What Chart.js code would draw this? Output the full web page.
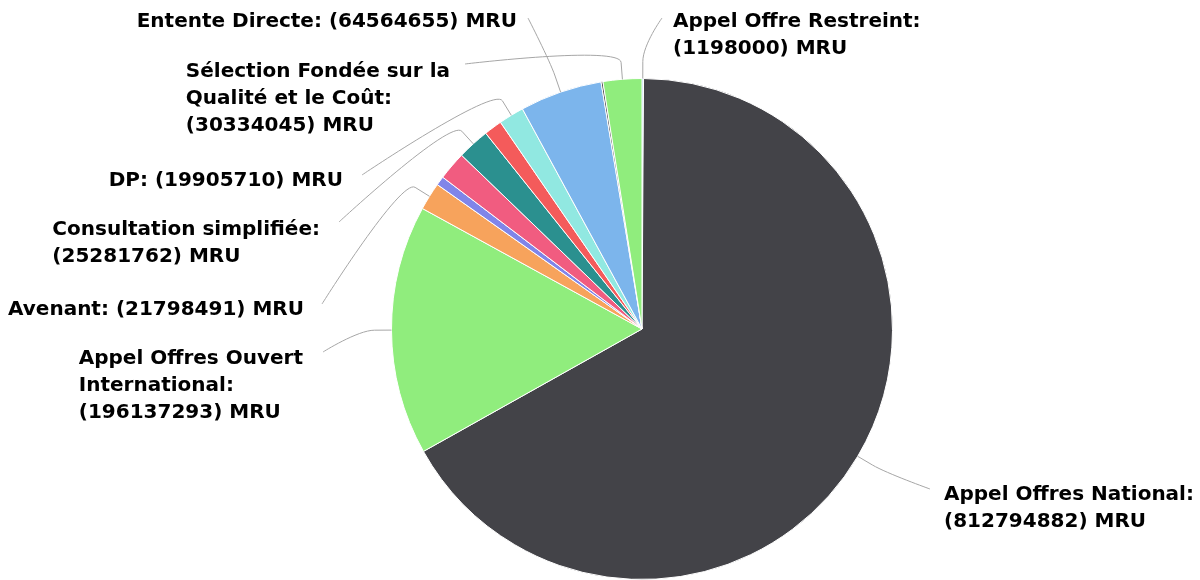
<!DOCTYPE html>
<html>
<head>
<meta charset="utf-8">
<script src="https://cdn.jsdelivr.net/npm/chart.js@4"></script>
<style>
  html, body { margin: 0; padding: 0; background: #fff; }
  #wrap { width: 1200px; height: 580px; }
</style>
</head>
<body>
<div id="wrap"><canvas id="pie" width="1200" height="580"></canvas></div>
<script>
// slices, clockwise from 12 o'clock
var categories = [
  'Appel Offre Restreint',
  'Appel Offres National',
  'Appel Offres Ouvert International',
  'Avenant',
  'Autre (1)',
  'Autre (2)',
  'Consultation simplifiée',
  'Autre (3)',
  'DP',
  'Entente Directe',
  'Autre (4)',
  'Sélection Fondée sur la Qualité et le Coût'
];
var amounts = [
  1198000, 812794882, 196137293, 21798491, 7100000, 22400000,
  25281762, 14200000, 19905710, 64564655, 1500000, 30334045
];
var sliceColors = [
  '#7cb5ec', '#434348', '#90ed7d', '#f7a35c', '#8085e9', '#f15c80',
  '#2b908f', '#f45b5b', '#91e8e1', '#7cb5ec', '#434348', '#90ed7d'
];
// which slices get a label (others are hidden like in the original)
var labelled = [true, true, true, true, false, false, true, false, true, true, false, true];

// label placement: text anchor (right edge on the left side, left edge on the right side),
// first line y, wrap width and where the connector starts
var LABEL_LAYOUT = {
  0:  { side: 'right', x: 673, y: 22,  wrap: 280, cx: 662, cy: 18 },
  1:  { side: 'right', x: 944, y: 495, wrap: 280, cx: 930, cy: 489 },
  2:  { side: 'left',  x: 303, y: 359, wrap: 250, cx: 323, cy: 352 },
  3:  { side: 'left',  x: 304, y: 310, wrap: 9999, cx: 322, cy: 304 },
  6:  { side: 'left',  x: 320, y: 230, wrap: 300, cx: 339, cy: 222 },
  8:  { side: 'left',  x: 343, y: 181, wrap: 9999, cx: 362, cy: 175 },
  9:  { side: 'left',  x: 517, y: 22,  wrap: 9999, cx: 528, cy: 18 },
  11: { side: 'left',  x: 450, y: 72,  wrap: 300, cx: 465, cy: 64 }
};

var FONT = 'bold 20px "DejaVu Sans", sans-serif';
var LINE_H = 27;

function wrapText(ctx, text, maxW) {
  var words = text.split(' ');
  var lines = [];
  var cur = '';
  words.forEach(function (w) {
    var test = cur ? cur + ' ' + w : w;
    if (cur && ctx.measureText(test).width > maxW) {
      lines.push(cur);
      cur = w;
    } else {
      cur = test;
    }
  });
  if (cur) lines.push(cur);
  return lines;
}

var pieLabels = {
  id: 'pieLabels',
  afterDatasetsDraw: function (chart) {
    var ctx = chart.ctx;
    var arcs = chart.getDatasetMeta(0).data;
    ctx.save();
    ctx.font = FONT;
    ctx.textBaseline = 'middle';
    arcs.forEach(function (arc, i) {
      if (!labelled[i]) return;
      var lay = LABEL_LAYOUT[i];
      var p = arc.getProps(['x', 'y', 'startAngle', 'endAngle', 'outerRadius'], true);
      var mid = (p.startAngle + p.endAngle) / 2;
      var touch = { x: p.x + Math.cos(mid) * p.outerRadius, y: p.y + Math.sin(mid) * p.outerRadius };
      var brk = { x: p.x + Math.cos(mid) * (p.outerRadius + 17), y: p.y + Math.sin(mid) * (p.outerRadius + 17) };

      // soft connector
      ctx.strokeStyle = '#a6a6a6';
      ctx.lineWidth = 1;
      ctx.beginPath();
      ctx.moveTo(lay.cx, lay.cy);
      ctx.bezierCurveTo(lay.cx, lay.cy, 2 * brk.x - touch.x, 2 * brk.y - touch.y, brk.x, brk.y);
      ctx.lineTo(touch.x, touch.y);
      ctx.stroke();

      var text = categories[i] + ': (' + amounts[i] + ') MRU';
      var lines = wrapText(ctx, text, lay.wrap);
      var blockW = Math.max.apply(null, lines.map(function (l) { return ctx.measureText(l).width; }));
      var left = lay.side === 'left' ? lay.x - blockW : lay.x;
      ctx.fillStyle = '#000';
      ctx.textAlign = 'left';
      lines.forEach(function (l, k) {
        ctx.fillText(l, left, lay.y + k * LINE_H);
      });
    });
    ctx.restore();
  }
};

new Chart(document.getElementById('pie').getContext('2d'), {
  type: 'pie',
  data: {
    labels: categories,
    datasets: [{
      data: amounts,
      backgroundColor: sliceColors,
      borderColor: '#ffffff',
      borderWidth: 1
    }]
  },
  options: {
    responsive: false,
    animation: false,
    layout: { padding: { top: 78, left: 84, right: 0, bottom: 0 } },
    plugins: {
      legend: { display: false },
      tooltip: { enabled: false }
    }
  },
  plugins: [pieLabels]
});
</script>
</body>
</html>
